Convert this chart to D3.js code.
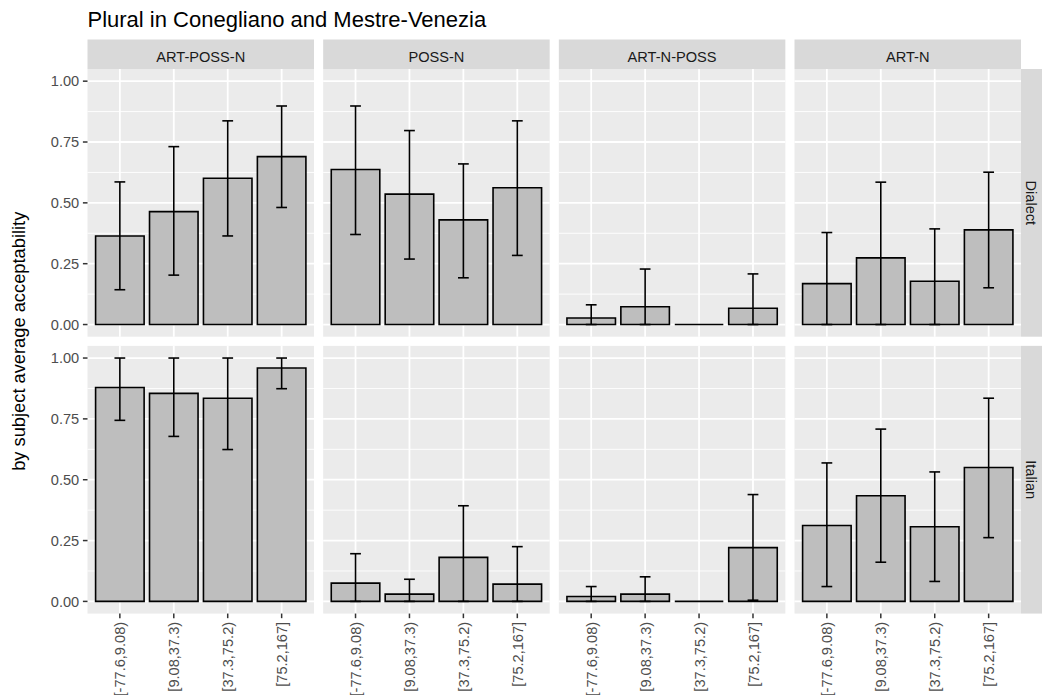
<!DOCTYPE html>
<html>
<head>
<meta charset="utf-8">
<script src="https://cdn.jsdelivr.net/npm/d3@7"></script>
<style>
  html, body { margin: 0; padding: 0; background: #fff; }
  svg { display: block; font-family: "Liberation Sans", Arial, sans-serif; }
</style>
</head>
<body>
<svg id="chart" width="1042" height="695"></svg>
<script>
// Age bins on the x axis, facet columns and facet rows
const bins = ["[-77.6,9.08)", "[9.08,37.3)", "[37.3,75.2)", "[75.2,167]"];
const constructions = ["ART-POSS-N", "POSS-N", "ART-N-POSS", "ART-N"];
const languages = ["Dialect", "Italian"];
const yTicks = [0, 0.25, 0.5, 0.75, 1];

// Mean acceptability and confidence limits, one row per construction, one value per bin
const dialectMean = [
  [0.364, 0.464, 0.601, 0.690],
  [0.637, 0.536, 0.430, 0.562],
  [0.027, 0.073, 0.000, 0.067],
  [0.168, 0.274, 0.178, 0.389]
];
const dialectLower = [
  [0.143, 0.203, 0.364, 0.481],
  [0.370, 0.269, 0.192, 0.284],
  [0.000, 0.000, 0.000, 0.000],
  [0.000, 0.000, 0.000, 0.151]
];
const dialectUpper = [
  [0.586, 0.731, 0.837, 0.898],
  [0.898, 0.797, 0.660, 0.837],
  [0.081, 0.228, 0.000, 0.208],
  [0.378, 0.585, 0.393, 0.626]
];
const italianMean = [
  [0.879, 0.855, 0.835, 0.959],
  [0.075, 0.030, 0.181, 0.071],
  [0.020, 0.030, 0.000, 0.221],
  [0.312, 0.434, 0.307, 0.550]
];
const italianLower = [
  [0.744, 0.678, 0.624, 0.874],
  [0.000, 0.000, 0.000, 0.000],
  [0.000, 0.000, 0.000, 0.005],
  [0.061, 0.161, 0.082, 0.262]
];
const italianUpper = [
  [1.000, 1.000, 1.000, 1.000],
  [0.196, 0.091, 0.393, 0.225],
  [0.061, 0.101, 0.000, 0.439],
  [0.569, 0.708, 0.532, 0.835]
];

const series = {
  Dialect: { mean: dialectMean, lower: dialectLower, upper: dialectUpper },
  Italian: { mean: italianMean, lower: italianLower, upper: italianUpper }
};

// Layout
const panelLeft = 87.5, panelTop = 69;
const panelW = 226.5, panelH = 267.7, gap = 9.17;
const stripH = 29.5;

const svg = d3.select("#chart");

// Title
svg.append("text")
  .attr("x", panelLeft).attr("y", 26.7)
  .attr("font-size", 22).attr("fill", "#000")
  .text("Plural in Conegliano and Mestre-Venezia");

// Shared scales (fixed across facets)
const x = d3.scaleBand().domain(bins)
  .range([0, panelW]).paddingOuter(0.6 / 1.0).paddingInner(0);
// discrete axis: 4 units + 0.6 expansion each side
const unit = panelW / 4.2;
const xc = d => (bins.indexOf(d) + 1 - 0.4) * unit;
const y = d3.scaleLinear().domain([-0.05, 1.05]).range([panelH, 0]);
const minorTicks = [0.125, 0.375, 0.625, 0.875];

// Column strips
constructions.forEach((c, ci) => {
  const gx = panelLeft + ci * (panelW + gap);
  svg.append("rect").attr("x", gx).attr("y", panelTop - stripH)
    .attr("width", panelW).attr("height", stripH).attr("fill", "#D9D9D9");
  svg.append("text").attr("x", gx + panelW / 2).attr("y", 61.5)
    .attr("text-anchor", "middle").attr("font-size", 14.6).attr("fill", "#1A1A1A")
    .text(c);
});

// Row strips
languages.forEach((lang, ri) => {
  const gy = panelTop + ri * (panelH + gap);
  const sx = panelLeft + 4 * panelW + 3 * gap;
  svg.append("rect").attr("x", sx).attr("y", gy)
    .attr("width", stripH).attr("height", panelH).attr("fill", "#D9D9D9");
  svg.append("text")
    .attr("transform", `translate(${sx + 5.3},${gy + panelH / 2}) rotate(90)`)
    .attr("text-anchor", "middle").attr("font-size", 14.6).attr("fill", "#1A1A1A")
    .text(lang);
});

// Panels
languages.forEach((lang, ri) => {
  constructions.forEach((c, ci) => {
    const g = svg.append("g")
      .attr("transform", `translate(${panelLeft + ci * (panelW + gap)},${panelTop + ri * (panelH + gap)})`);

    g.append("rect").attr("width", panelW).attr("height", panelH).attr("fill", "#EBEBEB");

    g.selectAll("line.minor").data(minorTicks).join("line")
      .attr("x1", 0).attr("x2", panelW)
      .attr("y1", d => y(d)).attr("y2", d => y(d))
      .attr("stroke", "#fff").attr("stroke-width", 0.9);
    g.selectAll("line.majorY").data(yTicks).join("line")
      .attr("x1", 0).attr("x2", panelW)
      .attr("y1", d => y(d)).attr("y2", d => y(d))
      .attr("stroke", "#fff").attr("stroke-width", 1.78);
    g.selectAll("line.majorX").data(bins).join("line")
      .attr("x1", d => xc(d)).attr("x2", d => xc(d))
      .attr("y1", 0).attr("y2", panelH)
      .attr("stroke", "#fff").attr("stroke-width", 1.78);

    const s = series[lang];
    const rows = bins.map((b, i) => ({
      bin: b, mean: s.mean[ci][i], lower: s.lower[ci][i], upper: s.upper[ci][i]
    }));

    const bw = 0.9 * unit;
    // bars as paths so that zero-height bars still show their outline
    g.selectAll("path.bar").data(rows).join("path")
      .attr("d", d => {
        const p = d3.path();
        const x0 = xc(d.bin) - bw / 2, y0 = y(d.mean), y1 = y(0);
        p.moveTo(x0, y1); p.lineTo(x0 + bw, y1); p.lineTo(x0 + bw, y0);
        p.lineTo(x0, y0); p.closePath();
        return p.toString();
      })
      .attr("fill", "#BEBEBE").attr("stroke", "#000").attr("stroke-width", 1.6);

    const ew = 0.2 * unit;
    const eb = g.selectAll("g.err").data(rows.filter(d => d.upper > d.lower)).join("g")
      .attr("stroke", "#000").attr("stroke-width", 1.6).attr("fill", "none");
    eb.append("line")
      .attr("x1", d => xc(d.bin)).attr("x2", d => xc(d.bin))
      .attr("y1", d => y(d.lower)).attr("y2", d => y(d.upper));
    eb.append("line")
      .attr("x1", d => xc(d.bin) - ew / 2).attr("x2", d => xc(d.bin) + ew / 2)
      .attr("y1", d => y(d.upper)).attr("y2", d => y(d.upper));
    eb.append("line")
      .attr("x1", d => xc(d.bin) - ew / 2).attr("x2", d => xc(d.bin) + ew / 2)
      .attr("y1", d => y(d.lower)).attr("y2", d => y(d.lower));

    // Left axis on the first column
    if (ci === 0) {
      g.selectAll("line.ytick").data(yTicks).join("line")
        .attr("x1", -4.6).attr("x2", 0)
        .attr("y1", d => y(d)).attr("y2", d => y(d))
        .attr("stroke", "#333").attr("stroke-width", 1.5);
      g.selectAll("text.ylab").data(yTicks).join("text")
        .attr("x", -8.3).attr("y", d => y(d)).attr("dy", "0.35em")
        .attr("text-anchor", "end").attr("font-size", 14.6).attr("fill", "#4D4D4D")
        .text(d3.format(".2f"));
    }

    // Bottom axis on the last row
    if (ri === languages.length - 1) {
      g.selectAll("line.xtick").data(bins).join("line")
        .attr("x1", d => xc(d)).attr("x2", d => xc(d))
        .attr("y1", panelH).attr("y2", panelH + 4.6)
        .attr("stroke", "#333").attr("stroke-width", 1.5);
      g.selectAll("text.xlab").data(bins).join("text")
        .attr("transform", d => `translate(${xc(d)},${panelH + 8.3}) rotate(-90)`)
        .attr("dy", "0.38em")
        .attr("text-anchor", "end").attr("font-size", 14.6).attr("fill", "#4D4D4D")
        .text(d => d);
    }
  });
});

// Y axis title
svg.append("text")
  .attr("transform", `translate(24.5,${panelTop + (2 * panelH + gap) / 2}) rotate(-90)`)
  .attr("text-anchor", "middle").attr("font-size", 18.3).attr("fill", "#000")
  .text("by subject average acceptability");
</script>
</body>
</html>
